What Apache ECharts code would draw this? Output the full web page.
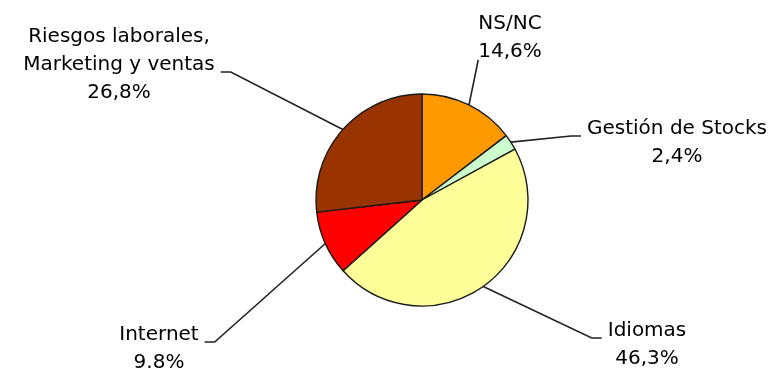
<!DOCTYPE html>
<html>
<head>
<meta charset="utf-8">
<script src="https://cdn.jsdelivr.net/npm/echarts@6/dist/echarts.min.js"></script>
<style>
  html, body { margin: 0; padding: 0; background: #ffffff; }
  #chart { width: 776px; height: 371px; }
</style>
</head>
<body>
<div id="chart"></div>
<script>
// ---- data ----
const categories = ['NS/NC', 'Gestión de Stocks', 'Idiomas', 'Internet', 'Riesgos laborales,\nMarketing y ventas'];
const values = [14.6, 2.4, 46.3, 9.8, 26.8];
const valueLabels = ['14,6%', '2,4%', '46,3%', '9.8%', '26,8%'];
const colors = ['#FF9900', '#CCFFCC', '#FFFF99', '#FF0000', '#993300'];

// ---- label layout (centre of each label block, which text line the leader joins, side) ----
const labelPlace = [
  { x: 510, y: 38,  line: 1, side: 'corner' },
  { x: 677, y: 143, line: 0, side: 'left' },
  { x: 647, y: 345, line: 0, side: 'left' },
  { x: 159, y: 349, line: 0, side: 'right' },
  { x: 119, y: 65,  line: 1, side: 'right' }
];
const LINE_H = 28;
const GAP = 6;
const TAIL = 10;

const chart = echarts.init(document.getElementById('chart'), null, { renderer: 'canvas' });

const seriesData = categories.map((name, i) => ({
  name: name,
  value: values[i],
  itemStyle: { color: colors[i] }
}));

chart.setOption({
  backgroundColor: '#ffffff',
  animation: false,
  series: [{
    type: 'pie',
    center: [422, 200],
    radius: 106,
    startAngle: 90,
    clockwise: true,
    avoidLabelOverlap: false,
    data: seriesData,
    itemStyle: { borderColor: '#1a1a1a', borderWidth: 1.4 },
    emphasis: { disabled: true },
    label: {
      show: true,
      position: 'outside',
      fontFamily: 'DejaVu Sans',
      fontSize: 20,
      lineHeight: LINE_H,
      color: '#000000',
      formatter: function (p) { return p.name + '\n' + valueLabels[p.dataIndex]; }
    },
    labelLine: {
      show: true,
      length: 10,
      length2: 10,
      lineStyle: { color: '#222222', width: 1.6 }
    },
    labelLayout: function (params) {
      const i = params.dataIndex;
      const p = labelPlace[i];
      const w = params.labelRect.width;
      const h = params.labelRect.height;
      const left = p.x - w / 2;
      const right = p.x + w / 2;
      const top = p.y - h / 2;
      const baseY = top + LINE_H * p.line + LINE_H / 2 + 7;
      const anchor = params.labelLinePoints[0];
      let pts;
      if (p.side === 'left') {
        pts = [anchor, [left - GAP - TAIL, baseY], [left - GAP, baseY]];
      } else if (p.side === 'right') {
        pts = [anchor, [right + GAP + TAIL, baseY], [right + GAP, baseY]];
      } else {
        pts = [anchor, [left, baseY + 1], [left, baseY + 1]];
      }
      return {
        x: p.x,
        y: p.y,
        align: 'center',
        verticalAlign: 'middle',
        labelLinePoints: pts
      };
    }
  }]
});
</script>
</body>
</html>
